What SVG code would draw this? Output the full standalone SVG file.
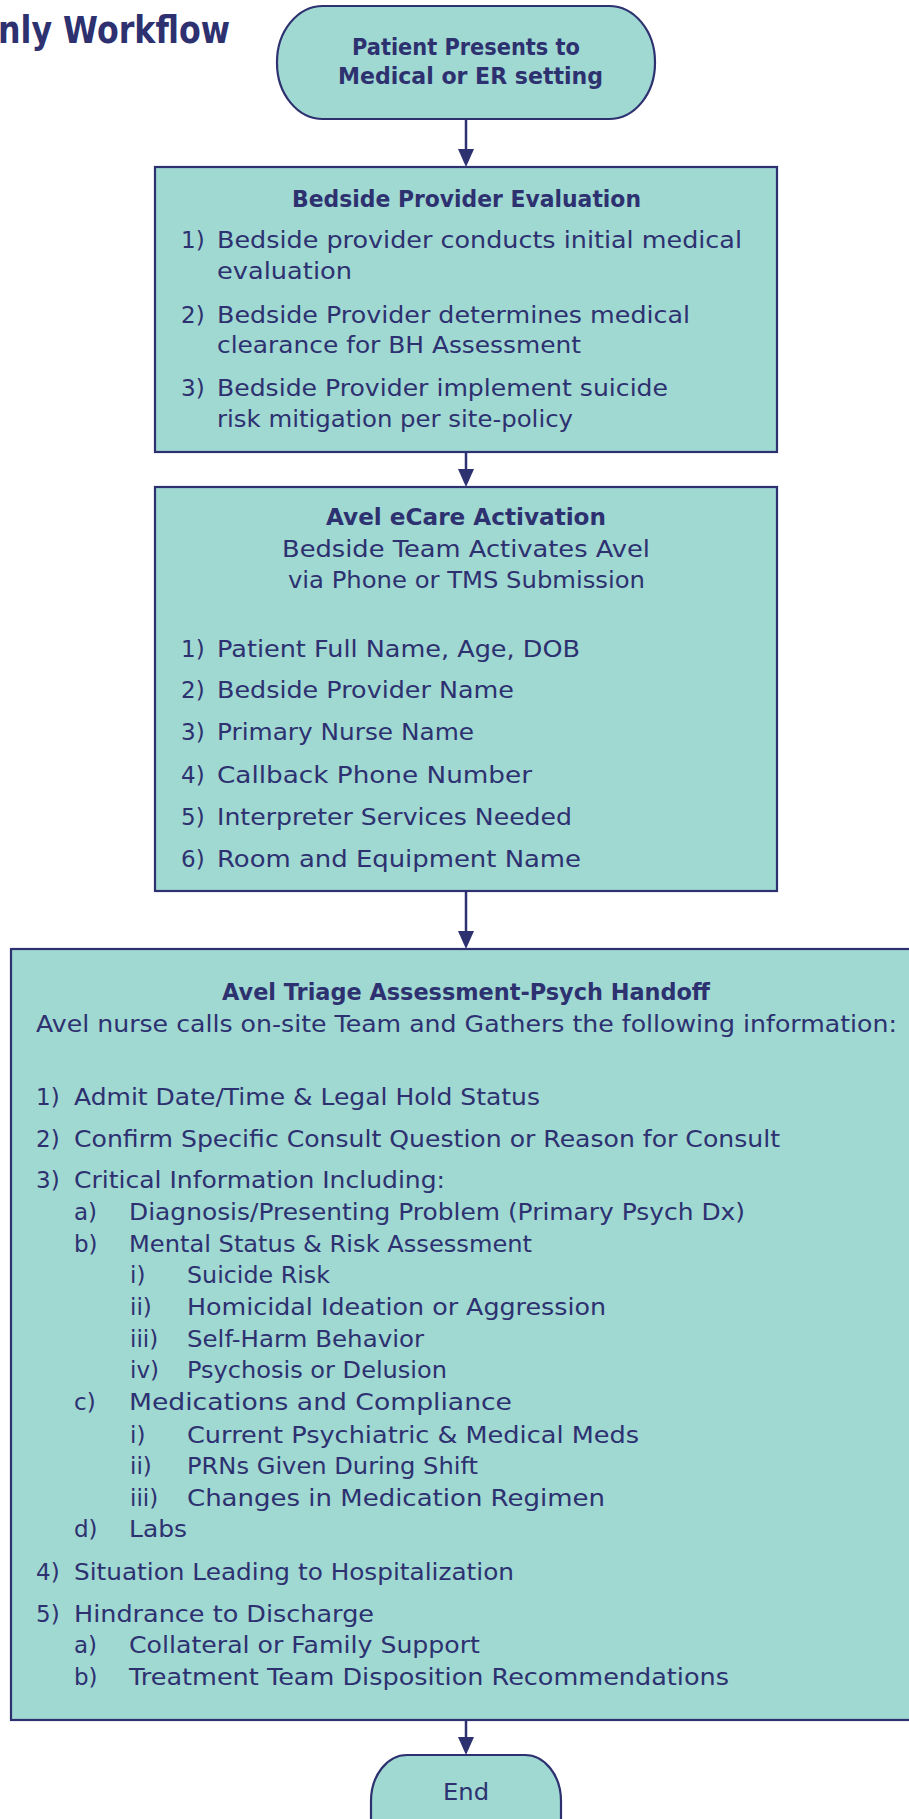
<svg xmlns="http://www.w3.org/2000/svg" width="909" height="1819" viewBox="0 0 909 1819">
<style>
.node{fill:#A0D8D2;stroke:#2D3170;stroke-width:2.2}
.t{font-family:"DejaVu Sans",sans-serif;font-size:23px;fill:#2D3170}
.b{font-weight:bold;font-size:23.5px}
.h{font-family:"DejaVu Sans",sans-serif;font-weight:bold;font-size:37px;fill:#2D3170}
.conn{stroke:#2D3170;stroke-width:2.5;fill:none}
</style>
<defs>
<marker id="arr" markerUnits="userSpaceOnUse" markerWidth="18" markerHeight="16" refX="8" refY="8" orient="auto">
<path d="M0,0 L18,8 L0,16 z" fill="#2D3170"/>
</marker>
</defs>
<rect width="909" height="1819" fill="#FFFFFF"/>
<g id="title">
<text class="h" x="230" y="43" text-anchor="end" textLength="232" lengthAdjust="spacingAndGlyphs">nly Workflow</text>
</g>
<g id="connectors">
<line class="conn" x1="466" y1="119" x2="466" y2="157" marker-end="url(#arr)"/>
<line class="conn" x1="466" y1="452" x2="466" y2="477" marker-end="url(#arr)"/>
<line class="conn" x1="466" y1="891" x2="466" y2="939" marker-end="url(#arr)"/>
<line class="conn" x1="466" y1="1720" x2="466" y2="1745" marker-end="url(#arr)"/>
</g>
<g id="start">
<rect class="node" x="277" y="6" width="378" height="113" rx="46" ry="56"/>
<text class="t b" x="352" y="55" textLength="228" lengthAdjust="spacingAndGlyphs">Patient Presents to</text>
<text class="t b" x="338" y="84" textLength="265" lengthAdjust="spacingAndGlyphs">Medical or ER setting</text>
</g>
<g id="bedside-eval">
<rect class="node" x="155" y="167" width="622" height="285"/>
<text class="t b" x="292" y="207" textLength="349" lengthAdjust="spacingAndGlyphs">Bedside Provider Evaluation</text>
<text class="t" x="181" y="248">1)</text>
<text class="t" x="217" y="248" textLength="525" lengthAdjust="spacingAndGlyphs">Bedside provider conducts initial medical</text>
<text class="t" x="217" y="279" textLength="135" lengthAdjust="spacingAndGlyphs">evaluation</text>
<text class="t" x="181" y="323">2)</text>
<text class="t" x="217" y="323" textLength="473" lengthAdjust="spacingAndGlyphs">Bedside Provider determines medical</text>
<text class="t" x="217" y="353" textLength="364" lengthAdjust="spacingAndGlyphs">clearance for BH Assessment</text>
<text class="t" x="181" y="396">3)</text>
<text class="t" x="217" y="396" textLength="451" lengthAdjust="spacingAndGlyphs">Bedside Provider implement suicide</text>
<text class="t" x="217" y="427" textLength="356" lengthAdjust="spacingAndGlyphs">risk mitigation per site-policy</text>
</g>
<g id="activation">
<rect class="node" x="155" y="487" width="622" height="404"/>
<text class="t b" x="326" y="525" textLength="280" lengthAdjust="spacingAndGlyphs">Avel eCare Activation</text>
<text class="t" x="282" y="557" textLength="368" lengthAdjust="spacingAndGlyphs">Bedside Team Activates Avel</text>
<text class="t" x="288" y="588" textLength="357" lengthAdjust="spacingAndGlyphs">via Phone or TMS Submission</text>
<text class="t" x="181" y="657">1)</text>
<text class="t" x="217" y="657" textLength="363" lengthAdjust="spacingAndGlyphs">Patient Full Name, Age, DOB</text>
<text class="t" x="181" y="698">2)</text>
<text class="t" x="217" y="698" textLength="297" lengthAdjust="spacingAndGlyphs">Bedside Provider Name</text>
<text class="t" x="181" y="740">3)</text>
<text class="t" x="217" y="740" textLength="257" lengthAdjust="spacingAndGlyphs">Primary Nurse Name</text>
<text class="t" x="181" y="783">4)</text>
<text class="t" x="217" y="783" textLength="315" lengthAdjust="spacingAndGlyphs">Callback Phone Number</text>
<text class="t" x="181" y="825">5)</text>
<text class="t" x="217" y="825" textLength="355" lengthAdjust="spacingAndGlyphs">Interpreter Services Needed</text>
<text class="t" x="181" y="867">6)</text>
<text class="t" x="217" y="867" textLength="364" lengthAdjust="spacingAndGlyphs">Room and Equipment Name</text>
</g>
<g id="triage">
<rect class="node" x="11" y="949" width="930" height="771"/>
<text class="t b" x="222" y="1000" textLength="488" lengthAdjust="spacingAndGlyphs">Avel Triage Assessment-Psych Handoff</text>
<text class="t" x="36" y="1032" textLength="861" lengthAdjust="spacingAndGlyphs">Avel nurse calls on-site Team and Gathers the following information:</text>
<text class="t" x="36" y="1105">1)</text>
<text class="t" x="74" y="1105" textLength="466" lengthAdjust="spacingAndGlyphs">Admit Date/Time &amp; Legal Hold Status</text>
<text class="t" x="36" y="1147">2)</text>
<text class="t" x="74" y="1147" textLength="706" lengthAdjust="spacingAndGlyphs">Confirm Specific Consult Question or Reason for Consult</text>
<text class="t" x="36" y="1188">3)</text>
<text class="t" x="74" y="1188" textLength="371" lengthAdjust="spacingAndGlyphs">Critical Information Including:</text>
<text class="t" x="74" y="1220">a)</text>
<text class="t" x="129" y="1220" textLength="616" lengthAdjust="spacingAndGlyphs">Diagnosis/Presenting Problem (Primary Psych Dx)</text>
<text class="t" x="74" y="1252">b)</text>
<text class="t" x="129" y="1252" textLength="403" lengthAdjust="spacingAndGlyphs">Mental Status &amp; Risk Assessment</text>
<text class="t" x="130" y="1283">i)</text>
<text class="t" x="187" y="1283" textLength="143" lengthAdjust="spacingAndGlyphs">Suicide Risk</text>
<text class="t" x="130" y="1315">ii)</text>
<text class="t" x="187" y="1315" textLength="419" lengthAdjust="spacingAndGlyphs">Homicidal Ideation or Aggression</text>
<text class="t" x="130" y="1347">iii)</text>
<text class="t" x="187" y="1347" textLength="237" lengthAdjust="spacingAndGlyphs">Self-Harm Behavior</text>
<text class="t" x="130" y="1378">iv)</text>
<text class="t" x="187" y="1378" textLength="260" lengthAdjust="spacingAndGlyphs">Psychosis or Delusion</text>
<text class="t" x="74" y="1410">c)</text>
<text class="t" x="129" y="1410" textLength="383" lengthAdjust="spacingAndGlyphs">Medications and Compliance</text>
<text class="t" x="130" y="1443">i)</text>
<text class="t" x="187" y="1443" textLength="452" lengthAdjust="spacingAndGlyphs">Current Psychiatric &amp; Medical Meds</text>
<text class="t" x="130" y="1474">ii)</text>
<text class="t" x="187" y="1474" textLength="291" lengthAdjust="spacingAndGlyphs">PRNs Given During Shift</text>
<text class="t" x="130" y="1506">iii)</text>
<text class="t" x="187" y="1506" textLength="418" lengthAdjust="spacingAndGlyphs">Changes in Medication Regimen</text>
<text class="t" x="74" y="1537">d)</text>
<text class="t" x="129" y="1537" textLength="58" lengthAdjust="spacingAndGlyphs">Labs</text>
<text class="t" x="36" y="1580">4)</text>
<text class="t" x="74" y="1580" textLength="440" lengthAdjust="spacingAndGlyphs">Situation Leading to Hospitalization</text>
<text class="t" x="36" y="1622">5)</text>
<text class="t" x="74" y="1622" textLength="300" lengthAdjust="spacingAndGlyphs">Hindrance to Discharge</text>
<text class="t" x="74" y="1653">a)</text>
<text class="t" x="129" y="1653" textLength="351" lengthAdjust="spacingAndGlyphs">Collateral or Family Support</text>
<text class="t" x="74" y="1685">b)</text>
<text class="t" x="129" y="1685" textLength="600" lengthAdjust="spacingAndGlyphs">Treatment Team Disposition Recommendations</text>
</g>
<g id="end">
<rect class="node" x="371" y="1755" width="190" height="110" rx="36" ry="46"/>
<text class="t" x="443" y="1800" textLength="46" lengthAdjust="spacingAndGlyphs">End</text>
</g>
</svg>
